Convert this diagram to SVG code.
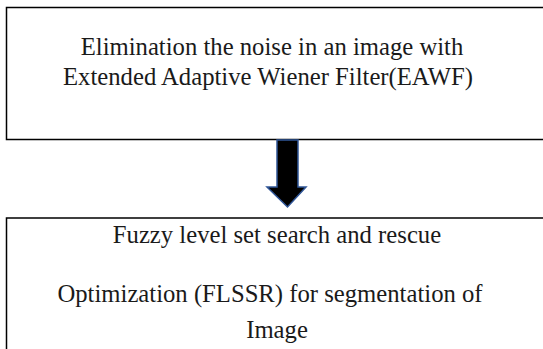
<svg xmlns="http://www.w3.org/2000/svg" width="543" height="349" viewBox="0 0 543 349">
<style>
.box{fill:#fff;stroke:#000;stroke-width:1.5}
.t{font-family:"Liberation Serif","Times New Roman",serif;font-size:24.7px;fill:#1a1a1a;text-anchor:middle}
</style>
<rect width="543" height="349" fill="#fff"/>
<g id="node1">
<rect class="box" x="6.5" y="7.5" width="545" height="132"/>
<text class="t" x="272" y="55">Elimination the noise in an image with</text>
<text class="t" x="268" y="85">Extended Adaptive Wiener Filter(EAWF)</text>
</g>
<g id="node2">
<rect class="box" x="6.5" y="218" width="545" height="140"/>
<text class="t" x="277" y="243">Fuzzy level set search and rescue</text>
<text class="t" x="270" y="302">Optimization (FLSSR) for segmentation of</text>
<text class="t" x="277" y="338">Image</text>
</g>
<g id="connectors">
<polygon points="277,140 298,140 298,187 306,187 287.5,207 267,187 277,187" fill="#000" stroke="#2F5597" stroke-width="1.5" stroke-linejoin="miter"/>
</g>
</svg>
